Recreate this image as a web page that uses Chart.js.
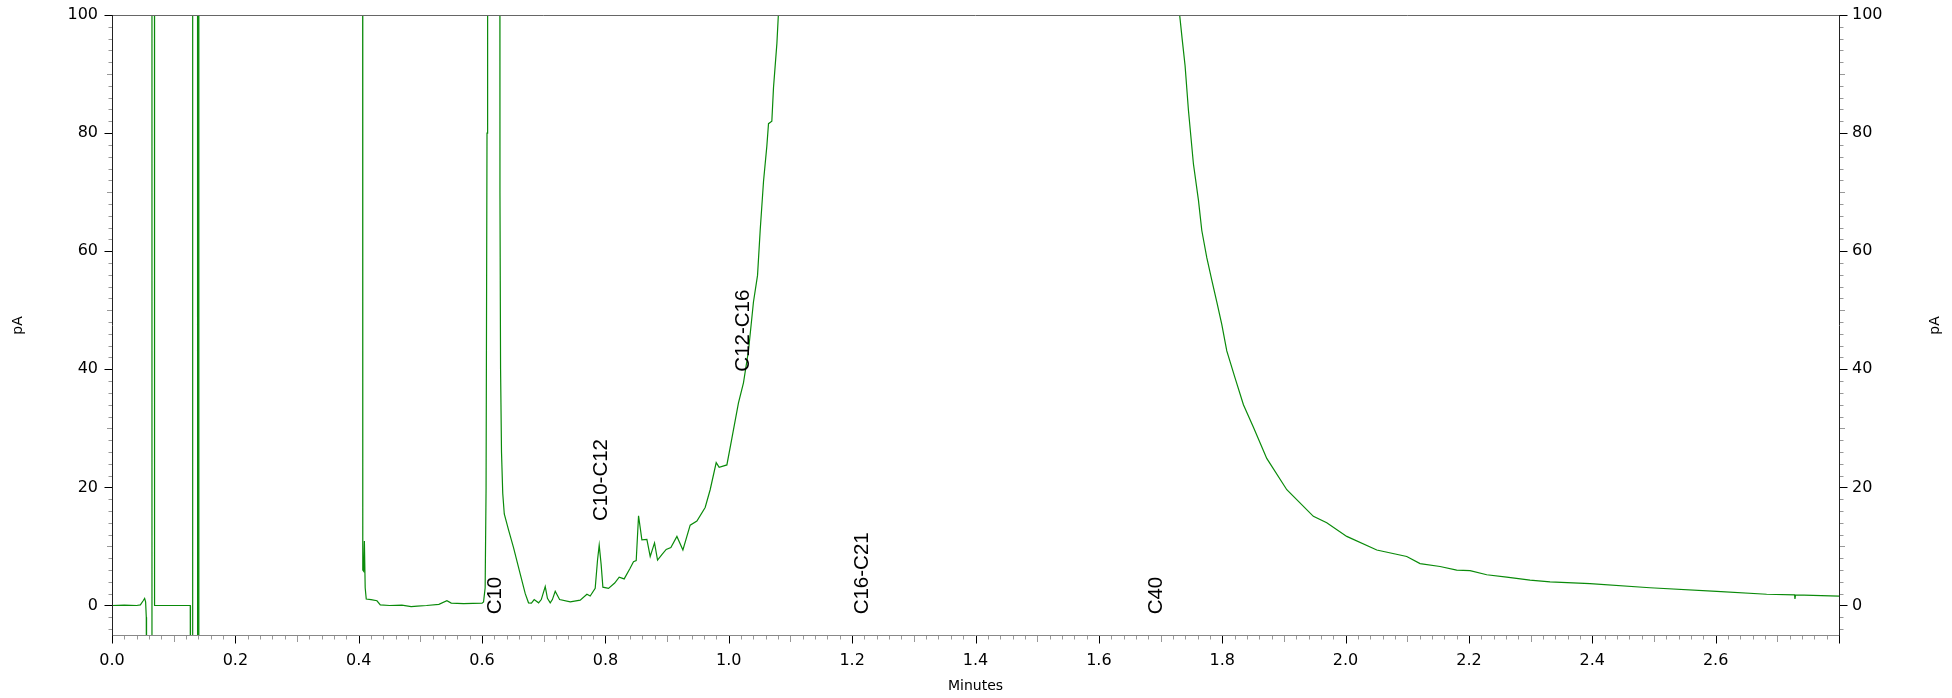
<!DOCTYPE html>
<html lang="en">
<head>
  <meta charset="UTF-8" />
  <title>Chromatogram - pA vs Minutes</title>
  <script src="https://cdn.jsdelivr.net/npm/chart.js"></script>
  <style>
    html, body { margin: 0; padding: 0; background: #fff; overflow: hidden; }
    #wrap { width: 1952px; height: 698px; position: relative; }
  </style>
</head>
<body>
  <div id="wrap"><canvas id="chrom"></canvas></div>

  <script>
    // trace (minutes, pA); values above 100 / below -5 run off scale
    const retentionTimes = [
      0.000, 0.020, 0.040, 0.046, 0.0505, 0.0529, 0.0545, 0.0556, 0.0560, 0.0645,
      0.0648, 0.0686, 0.0690, 0.090, 0.110, 0.1269, 0.1272, 0.1305, 0.1308, 0.1385,
      0.1388, 0.1405, 0.1408, 0.250, 0.4060, 0.4066, 0.4080, 0.4092, 0.4105, 0.4122,
      0.4200, 0.4296, 0.4350, 0.4500, 0.4700, 0.4850, 0.4950, 0.5100, 0.5300, 0.5430,
      0.5500, 0.5700, 0.6000, 0.6024, 0.6050, 0.6065, 0.6080, 0.6090, 0.6280, 0.6290,
      0.6300, 0.6315, 0.6335, 0.6360, 0.6429, 0.6510, 0.6619, 0.6700, 0.6753, 0.6800,
      0.6845, 0.6916, 0.6960, 0.7024, 0.7060, 0.7105, 0.7140, 0.7186, 0.7257, 0.7430,
      0.7591, 0.7700, 0.7753, 0.7834, 0.7872, 0.7899, 0.7930, 0.7959, 0.8050, 0.8150,
      0.8223, 0.8304, 0.8400, 0.8455, 0.8499, 0.8537, 0.8591, 0.8672, 0.8726, 0.8796,
      0.8845, 0.8915, 0.8985, 0.9061, 0.9159, 0.9256, 0.9374, 0.9483, 0.9617, 0.9698,
      0.9796, 0.9844, 0.9969, 1.0050, 1.0157, 1.0238, 1.0319, 1.0400, 1.0466, 1.0509,
      1.0563, 1.0617, 1.0644, 1.0698, 1.0725, 1.0780, 1.0806, 1.0900, 1.1200, 1.4000,
      1.7000, 1.7200, 1.7307, 1.7350, 1.7398, 1.7452, 1.7533, 1.7614, 1.7669, 1.7750,
      1.7831, 1.7912, 1.7993, 1.8074, 1.8209, 1.8344, 1.8506, 1.8722, 1.9047, 1.9478,
      1.9695, 2.0019, 2.0506, 2.0992, 2.1208, 2.1532, 2.1802, 2.2018, 2.2289, 2.2613,
      2.2991, 2.3315, 2.3963, 2.4936, 2.6017, 2.6827, 2.7280, 2.7286, 2.7295, 2.8000
    ];
    const signal = [
      0.0, 0.05, 0.0, 0.1, 0.8, 1.2, 0.6, -2, -20, -20,
      300, 300, 0.0, 0.0, 0.0, 0.0, -20, -20, 300, 300,
      -20, -20, 300, 300, 300, 6.0, 5.8, 10.9, 3.0, 1.1,
      1.0, 0.8, 0.1, 0.0, 0.05, -0.2, -0.1, 0.0, 0.2, 0.8,
      0.4, 0.3, 0.4, 0.6, 3, 20, 80, 300, 300, 70,
      40, 26, 19, 15.5, 12.8, 9.8, 5.3, 2.0, 0.45, 0.4,
      1.0, 0.45, 1.0, 3.2, 1.2, 0.45, 1.0, 2.4, 1.0, 0.6,
      0.9, 1.9, 1.6, 2.9, 7.7, 10.2, 7.0, 3.1, 2.9, 3.8,
      4.8, 4.5, 6.3, 7.4, 7.6, 15.2, 11.1, 11.2, 8.3, 10.6,
      7.7, 8.6, 9.5, 9.8, 11.7, 9.4, 13.6, 14.3, 16.6, 19.6,
      24.2, 23.4, 23.8, 28.3, 34.3, 37.7, 43.1, 51.4, 55.9, 63.5,
      71.8, 77.8, 81.6, 82.0, 87.7, 95.2, 100.5, 130, 250, 1000,
      250, 130, 100.3, 96.0, 91.4, 83.9, 74.8, 68.7, 63.5, 58.9,
      55.1, 51.4, 47.6, 43.1, 38.5, 34.0, 30.2, 24.9, 19.6, 15.1,
      14.0, 11.7, 9.4, 8.3, 7.1, 6.6, 6.0, 5.9, 5.2, 4.8,
      4.3, 4.0, 3.7, 3.0, 2.4, 1.9, 1.8, 1.1, 1.8, 1.6
    ];

    // peak group annotations: text, time of label centre, level where the text starts
    const peakLabels = ["C10", "C10-C12", "C12-C16", "C16-C21", "C40"];
    const peakLabelTimes = [0.6195, 0.790, 1.0206, 1.2135, 1.6907];
    const peakLabelLevels = [-1.5, 14.3, 39.6, -1.5, -1.5];

    // axes
    const xTickValues = [0.0, 0.2, 0.4, 0.6, 0.8, 1.0, 1.2, 1.4, 1.6, 1.8, 2.0, 2.2, 2.4, 2.6];
    const yTickValues = [0, 20, 40, 60, 80, 100];
    const xMin = 0, xMax = 2.8, yMin = -5, yMax = 100;

    const TICK_FONT = { family: "'DejaVu Sans', Verdana, sans-serif", size: 16 };
    const TRACE_COLOR = "#0a8a0a";

    // frame, tick marks, axis titles and peak labels
    const chromDecor = {
      id: "chromDecor",
      afterDraw(chart) {
        const { ctx, chartArea: a, scales } = chart;
        const xs = scales.x, ys = scales.y;
        ctx.save();

        // frame
        ctx.lineWidth = 1;
        const line = (x1, y1, x2, y2, c) => {
          ctx.strokeStyle = c;
          ctx.beginPath(); ctx.moveTo(x1, y1); ctx.lineTo(x2, y2); ctx.stroke();
        };
        line(a.left, a.top + 0.5, a.right, a.top + 0.5, "#666");
        line(a.left, a.bottom + 0.5, a.right, a.bottom + 0.5, "#888");
        line(a.left + 0.5, a.top, a.left + 0.5, a.bottom + 1, "#222");
        line(a.right + 0.5, a.top, a.right + 0.5, a.bottom + 1, "#222");

        // x ticks every 0.02 min
        for (let i = 0; i <= 140; i++) {
          const px = Math.round(xs.getPixelForValue(i * 0.02)) + 0.5;
          const major = i % 10 === 0, mid = i % 5 === 0;
          const len = major ? 7.5 : mid ? 6 : 3.5;
          line(px, a.bottom + 1, px, a.bottom + 1 + len, major ? "#000" : "#999");
        }
        // y ticks every 2 pA, both sides
        for (let v = -4; v <= 100; v += 2) {
          const py = Math.round(ys.getPixelForValue(v)) + 0.5;
          const major = v % 20 === 0, mid = v % 10 === 0;
          const len = major ? 7.5 : mid ? 5 : 3.5;
          const c = major ? "#000" : "#999";
          line(a.left - len, py, a.left, py, c);
          line(a.right + 1, py, a.right + 1 + len, py, c);
        }

        // axis titles
        ctx.fillStyle = "#000";
        ctx.font = "14px 'DejaVu Sans', Verdana, sans-serif";
        ctx.textAlign = "center";
        ctx.textBaseline = "middle";
        const midY = (a.top + a.bottom) / 2 + 0.5;
        ctx.fillText("Minutes", (a.left + a.right) / 2, 686);
        [18, 1935].forEach(tx => {
          ctx.save();
          ctx.translate(tx, midY);
          ctx.rotate(-Math.PI / 2);
          ctx.fillText("pA", 0, 0);
          ctx.restore();
        });

        // peak labels, reading upwards
        ctx.font = "20.5px 'Liberation Sans', Arial, sans-serif";
        ctx.textAlign = "left";
        ctx.textBaseline = "alphabetic";
        peakLabels.forEach((txt, i) => {
          const px = xs.getPixelForValue(peakLabelTimes[i]);
          const py = ys.getPixelForValue(peakLabelLevels[i]);
          ctx.save();
          ctx.translate(px + 7.4, py);
          ctx.rotate(-Math.PI / 2);
          ctx.fillText(txt, 0, 0);
          ctx.restore();
        });

        ctx.restore();
      }
    };

    // keep label overflow from pushing the plot area around
    const fixVertical = w => s => { s.width = w; s.paddingTop = 0; s.paddingBottom = 0; };

    const yAxisBase = {
      type: "linear",
      min: yMin,
      max: yMax,
      grid: { display: false, drawTicks: false },
      border: { display: false },
      afterBuildTicks: s => { s.ticks = yTickValues.map(v => ({ value: v })); },
      ticks: { font: TICK_FONT, color: "#000", autoSkip: false, callback: v => String(v) }
    };

    new Chart(document.getElementById("chrom"), {
      type: "line",
      data: {
        datasets: [{
          label: "FID",
          data: retentionTimes.map((t, i) => ({ x: t, y: signal[i] })),
          borderColor: TRACE_COLOR,
          borderWidth: 1.2,
          pointRadius: 0,
          tension: 0,
          fill: false
        }]
      },
      options: {
        responsive: true,
        maintainAspectRatio: false,
        animation: false,
        layout: { padding: { top: 15, left: 0, right: 0, bottom: 0 } },
        plugins: { legend: { display: false }, tooltip: { enabled: false } },
        scales: {
          x: {
            type: "linear",
            min: xMin,
            max: xMax,
            grid: { display: false, drawTicks: false },
            border: { display: false },
            afterBuildTicks: s => { s.ticks = xTickValues.map(v => ({ value: v })); },
            afterFit: s => { s.height = 63; s.paddingLeft = 0; s.paddingRight = 0; },
            ticks: {
              font: TICK_FONT, color: "#000", padding: 16,
              autoSkip: false, maxRotation: 0,
              callback: v => Number(v).toFixed(1)
            }
          },
          y: Object.assign({}, yAxisBase, {
            position: "left",
            afterFit: fixVertical(112),
            ticks: Object.assign({}, yAxisBase.ticks, { padding: 14 })
          }),
          y2: Object.assign({}, yAxisBase, {
            position: "right",
            afterFit: fixVertical(113),
            ticks: Object.assign({}, yAxisBase.ticks, { padding: 13 })
          })
        }
      },
      plugins: [chromDecor]
    });
  </script>
</body>
</html>
